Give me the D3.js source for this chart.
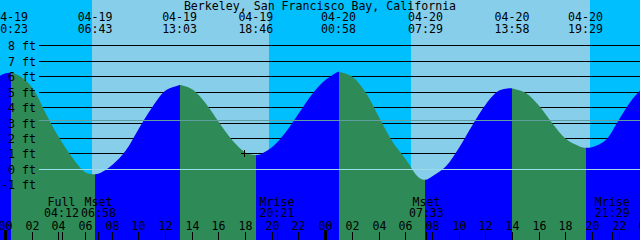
<!DOCTYPE html>
<html>
<head>
<meta charset="utf-8">
<script src="https://cdn.jsdelivr.net/npm/d3@7"></script>
<style>
  body { margin: 0; background: #fff; }
  svg { display: block; }
  text { font-family: "DejaVu Sans Mono", monospace; font-size: 11.6px; fill: #000; }
</style>
</head>
<body>
<svg id="chart" width="640" height="240"></svg>
<script>
// Station and tide data
const title = "Berkeley, San Francisco Bay, California";

const extremeTimes = ["04-19 00:23", "04-19 06:43", "04-19 13:03", "04-19 18:46",
                      "04-20 00:58", "04-20 07:29", "04-20 13:58", "04-20 19:29"];
const extremeHeights = [6.26, -0.32, 5.46, 0.92, 6.33, -0.68, 5.25, 1.40];
const extremeKinds = ["high", "low", "high", "low", "high", "low", "high", "low"];

// hourly heights (ft) from 04-18 23:00 to 04-21 00:00
const hourlyStart = "04-18 23:00";
const hourlyHeights = [
  5.80, 6.22, 6.08, 5.30, 3.65, 2.07, 0.77, -0.20, -0.28, 0.28,
  1.20, 2.65, 4.02, 5.10, 5.45, 5.18, 4.28, 3.05, 1.88, 1.08,
  0.94, 1.45, 2.40, 3.65, 4.88, 5.80, 6.32, 6.00, 4.98, 3.37,
  1.80, 0.65, -0.55, -0.45, 0.18, 1.40, 2.86, 4.20, 5.10, 5.24,
  4.95, 4.12, 2.97, 1.98, 1.50, 1.45, 1.90, 3.25, 4.55, 5.50
];

const sunTimes = ["04-19 06:29", "04-19 19:45", "04-20 06:26", "04-20 19:49"]; // rise, set, rise, set
const moonNames = ["Full", "Mset", "Mrise", "Mset", "Mrise"];
const moonTimes = ["04-19 04:12", "04-19 06:58", "04-19 20:21", "04-20 07:33", "04-20 21:29"];

const footLevels = [-1, 0, 1, 2, 3, 4, 5, 6, 7, 8];
const meanSeaLevel = 3.18;
const hourTicks = d3.range(0, 49, 2);
const markTime = "04-19 17:55";
const markHeight = 1.05;

// colours
const nightColor = "#00bfff", dayColor = "#87ceeb";
const floodColor = "#0000ff", ebbColor = "#2e8b57";

const W = 640, H = 240;
const parse = d3.timeParse("%m-%d %H:%M");
const base = parse("04-19 00:00");
const hrs = s => (parse(s) - base) / 3.6e6;

const x = d3.scaleLinear().domain([-0.412, 47.564]).range([0, W]);
const y = d3.scaleLinear().domain([-1, 8]).range([184.73, 45.86]);
const py = v => Math.floor(y(v)) + 0.5;

const svg = d3.select("#chart");

// day / night bands
const sun = sunTimes.map(hrs);
const bands = [[x.domain()[0], sun[0], nightColor], [sun[0], sun[1], dayColor],
               [sun[1], sun[2], nightColor], [sun[2], sun[3], dayColor],
               [sun[3], x.domain()[1], nightColor]];
svg.append("g").selectAll("rect").data(bands).join("rect")
  .attr("x", d => x(d[0])).attr("width", d => x(d[1]) - x(d[0]))
  .attr("y", 0).attr("height", H)
  .attr("fill", d => d[2])
  .attr("shape-rendering", "crispEdges");

// foot lines (behind the water)
svg.append("g").selectAll("line").data(footLevels).join("line")
  .attr("x1", 39).attr("x2", W)
  .attr("y1", d => py(d)).attr("y2", d => py(d))
  .attr("stroke", "#000").attr("shape-rendering", "crispEdges");

// tide curve points: hourly readings merged with the extremes
const t0 = hrs(hourlyStart);
const pts = hourlyHeights.map((h, i) => [t0 + i, h])
  .concat(extremeTimes.map((t, i) => [hrs(t), extremeHeights[i]]))
  .sort((a, b) => a[0] - b[0]);

const area = d3.area()
  .x(d => x(d[0])).y0(H).y1(d => y(d[1]))
  .curve(d3.curveCatmullRom.alpha(0.5));

svg.append("clipPath").attr("id", "water")
  .append("path").attr("d", area(pts));

// flood / ebb segments between the extremes
const ext = extremeTimes.map(hrs);
const edges = [x.domain()[0]].concat(ext, [x.domain()[1]]);
const segs = d3.range(edges.length - 1).map(i => {
  const rising = i < extremeKinds.length ? extremeKinds[i] === "high"
                                         : extremeKinds[extremeKinds.length - 1] === "low";
  return [edges[i], edges[i + 1], rising ? floodColor : ebbColor];
});
svg.append("g").attr("clip-path", "url(#water)")
  .selectAll("rect").data(segs).join("rect")
  .attr("x", d => x(d[0])).attr("width", d => x(d[1]) - x(d[0]))
  .attr("y", 0).attr("height", H)
  .attr("fill", d => d[2])
  .attr("shape-rendering", "crispEdges");

// mean sea level and datum lines on top
svg.append("line")
  .attr("x1", 39).attr("x2", W).attr("y1", py(meanSeaLevel)).attr("y2", py(meanSeaLevel))
  .attr("stroke", "#5f9ea0").attr("shape-rendering", "crispEdges");
svg.append("line")
  .attr("x1", 39).attr("x2", W).attr("y1", py(0)).attr("y2", py(0))
  .attr("stroke", "#9adcec").attr("shape-rendering", "crispEdges");

// y labels
svg.append("g").selectAll("text").data(footLevels).join("text")
  .attr("x", 36).attr("y", d => py(d) + 4)
  .attr("text-anchor", "end")
  .text(d => d + " ft");

// title and extreme labels
svg.append("text").attr("x", W / 2).attr("y", 9.5)
  .attr("text-anchor", "middle").text(title);

const tideLabels = svg.append("g").selectAll("g").data(extremeTimes).join("g")
  .attr("transform", d => `translate(${x(hrs(d))},0)`);
tideLabels.append("text").attr("y", 21).attr("text-anchor", "middle").text(d => d.slice(0, 5));
tideLabels.append("text").attr("y", 33).attr("text-anchor", "middle").text(d => d.slice(6));

// moon events
const moon = svg.append("g").selectAll("g").data(moonTimes).join("g")
  .attr("transform", d => `translate(${x(hrs(d))},0)`);
moon.append("text").attr("y", 206).attr("text-anchor", "middle").text((d, i) => moonNames[i]);
moon.append("text").attr("y", 217).attr("text-anchor", "middle").text(d => d.slice(6));
moon.append("line")
  .attr("x1", 0.5).attr("x2", 0.5).attr("y1", 232).attr("y2", H)
  .attr("stroke", "#000").attr("shape-rendering", "crispEdges");

// hour axis
const hours = svg.append("g").selectAll("g").data(hourTicks).join("g")
  .attr("transform", d => `translate(${Math.floor(x(d))},0)`);
hours.append("text").attr("x", 0.5).attr("y", 229.5).attr("text-anchor", "middle")
  .text(d => d3.format("02")(d % 24));
hours.append("line")
  .attr("x1", 0.5).attr("x2", 0.5)
  .attr("y1", d => d % 24 === 0 ? 230 : 232).attr("y2", H)
  .attr("stroke", "#000")
  .attr("stroke-width", d => d % 24 === 0 ? 3 : 1)
  .attr("shape-rendering", "crispEdges");

// current-time mark
const mx = Math.floor(x(hrs(markTime))) + 0.5, my = Math.floor(y(markHeight)) + 0.5;
svg.append("path")
  .attr("d", `M${mx - 3.5},${my}H${mx + 3.5}M${mx},${my - 3.5}V${my + 3.5}`)
  .attr("stroke", "#000").attr("fill", "none").attr("shape-rendering", "crispEdges");
</script>
</body>
</html>
